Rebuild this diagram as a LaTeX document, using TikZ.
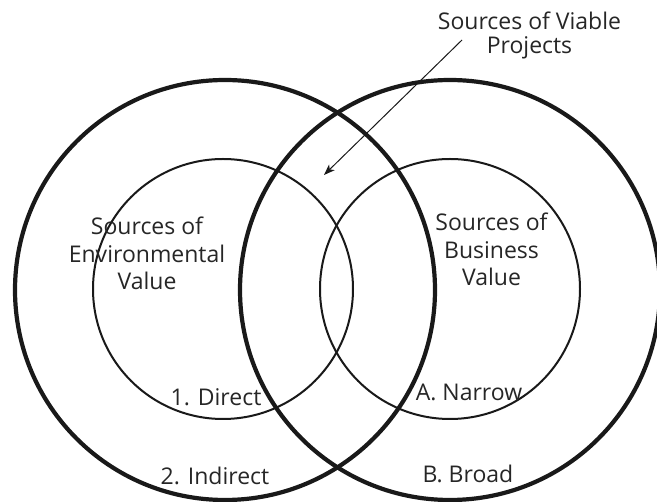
\documentclass[tikz,border=0pt]{standalone}
\usepackage{fontspec}
\setmainfont{Open Sans}
\usetikzlibrary{arrows.meta}
\tikzset{
  outerring/.style={draw=black!90, line width=4.2pt, circle, inner sep=0pt, minimum size=420pt},
  innerring/.style={draw=black!90, line width=2pt, circle, inner sep=0pt, minimum size=260pt},
  lbl/.style={inner sep=0pt, align=center, font=\fontsize{23}{27.5}\selectfont, text=black!85},
  pointer/.style={draw=black!90, line width=1pt, -{Stealth[length=11pt,width=8pt,inset=3pt]}}
}
\begin{document}
\begin{tikzpicture}[x=1pt,y=-1pt]
\useasboundingbox (0,0) rectangle (657,502);
\node[outerring] (envOuter) at (225,290) {};
\node[outerring] (busOuter) at (450,290) {};
\node[innerring] (envInner) at (223,289) {};
\node[innerring] (busInner) at (450,289) {};

\node[lbl, anchor=base, font=\fontsize{23}{24.7}\selectfont] (viable) at (529.5,54) {Sources of Viable\\Projects};
\node[lbl, anchor=base] (envText) at (147,290) {Sources of\\Environmental\\Value};
\node[lbl, anchor=base] (busText) at (491.5,286) {Sources of\\Business\\Value};
\node[lbl, anchor=base] (direct) at (216,406) {1. Direct};
\node[lbl, anchor=base] (indirect) at (215,485) {2. Indirect};
\node[lbl, anchor=base] (narrow) at (469,401) {A. Narrow};
\node[lbl, anchor=base] (broad) at (468,483) {B. Broad};

\coordinate (arrowStart) at (462,40);
\coordinate (arrowTip) at (324,175);
\draw[pointer] (arrowStart) -- (arrowTip);
\end{tikzpicture}
\end{document}
